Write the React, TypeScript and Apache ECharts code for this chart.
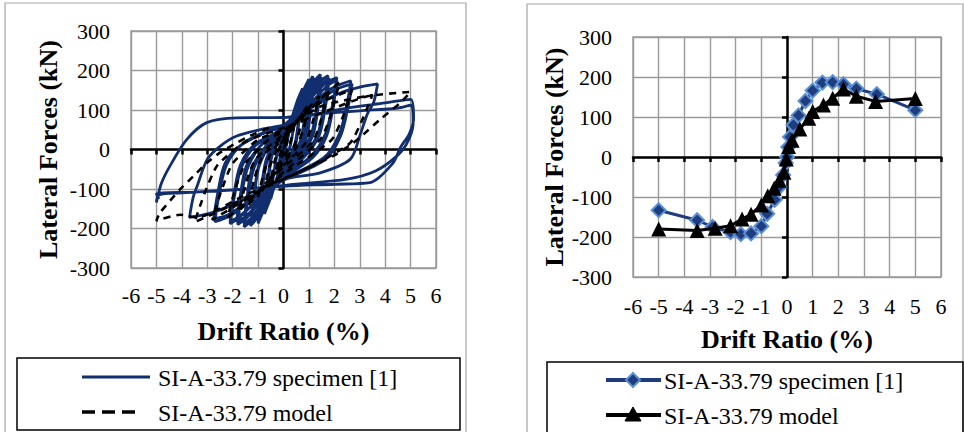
import React, { useEffect, useRef } from "react";
import * as echarts from "echarts";

// ---- data ----
const seriesNames = ["SI-A-33.79 specimen [1]", "SI-A-33.79 model"];
const xAxisTitle = "Drift Ratio (%)";
const yAxisTitle = "Lateral Forces (kN)";
const driftRange = [-6, 6];
const driftStep = 1;
const forceRange = [-300, 300];
const forceStep = 100;

// left chart: hysteresis of the specimen (drift %, force kN), read cycle by cycle
const specimenHysteresis: number[][] = [
  [0, 0], [0.12, 35], [0.25, 62], [0.15, 20], [0.05, -5], [-0.12, -38], [-0.25, -70], [-0.15, -25], [-0.05, 5],
  [0.15, 40], [0.35, 85], [0.5, 115], [0.38, 50], [0.25, 5], [0, -30], [-0.25, -70], [-0.5, -125], [-0.38, -60], [-0.25, -10], [0, 25],
  [0.3, 70], [0.5, 108], [0.37, 45], [0.22, 0], [0, -30], [-0.3, -80], [-0.5, -118], [-0.37, -55], [-0.22, -5], [0, 28],
  [0.3, 70], [0.55, 125], [0.75, 155], [0.62, 90], [0.45, 15], [0.1, -35], [-0.3, -85], [-0.55, -130], [-0.75, -163], [-0.62, -95], [-0.45, -15], [-0.1, 30],
  [0.35, 75], [0.6, 125], [0.75, 148], [0.63, 85], [0.47, 10], [0.1, -38], [-0.35, -90], [-0.75, -155], [-0.63, -90], [-0.47, -12], [-0.1, 28],
  [0.4, 85], [0.75, 145], [1.0, 178], [0.88, 110], [0.68, 25], [0.25, -30], [-0.4, -95], [-0.75, -150], [-1.0, -187], [-0.87, -120], [-0.65, -30], [-0.2, 35],
  [0.45, 85], [0.8, 145], [1.0, 170], [0.9, 105], [0.7, 20], [0.25, -35], [-0.45, -100], [-1.0, -178], [-0.9, -115], [-0.68, -25], [-0.2, 32],
  [0.5, 95], [0.95, 160], [1.15, 186], [1.05, 130], [0.85, 35], [0.4, -25], [-0.45, -100], [-1.0, -170], [-1.3, -193], [-1.17, -130], [-0.95, -40], [-0.3, 35],
  [0.55, 95], [1.0, 160], [1.25, 180], [1.12, 125], [0.9, 30], [0.4, -30], [-0.5, -105], [-1.05, -168], [-1.28, -185], [-1.17, -125], [-0.95, -35], [-0.3, 32],
  [0.6, 100], [1.2, 172], [1.45, 190], [1.35, 130], [1.1, 40], [0.55, -20], [-0.5, -100], [-1.2, -175], [-1.55, -196], [-1.42, -135], [-1.15, -45], [-0.4, 35],
  [0.65, 100], [1.25, 168], [1.5, 182], [1.4, 125], [1.15, 35], [0.55, -25], [-0.55, -105], [-1.25, -172], [-1.55, -188], [-1.45, -128], [-1.2, -40], [-0.4, 30],
  [0.7, 100], [1.4, 170], [1.75, 187], [1.62, 125], [1.35, 40], [0.8, -15], [-0.5, -95], [-1.4, -170], [-1.8, -190], [-1.68, -130], [-1.4, -45], [-0.7, 25], [0, 50],
  [0.75, 100], [1.45, 165], [1.8, 180], [1.68, 120], [1.4, 35], [0.8, -20], [-0.5, -98], [-1.45, -168], [-1.85, -183], [-1.72, -125], [-1.45, -40], [-0.7, 22], [0, 48],
  [0.8, 110], [1.6, 165], [2.1, 182], [1.95, 120], [1.65, 40], [1.1, -15], [0, -70], [-1.0, -125], [-1.7, -170], [-2.1, -188], [-1.95, -125], [-1.65, -45], [-1.1, 10], [0, 55],
  [0.9, 105], [1.7, 160], [2.1, 176], [1.97, 115], [1.7, 35], [1.15, -20], [0, -72], [-1.0, -128], [-1.75, -170], [-2.1, -182], [-1.97, -120], [-1.7, -40], [-1.15, 12], [0, 52],
  [1.0, 110], [1.9, 155], [2.65, 174], [2.5, 115], [2.2, 40], [1.6, -20], [0, -75], [-1.2, -125], [-2.1, -168], [-2.7, -183], [-2.55, -120], [-2.25, -40], [-1.6, 15], [-0.5, 50], [0.3, 65],
  [1.1, 108], [2.0, 150], [2.7, 166], [2.55, 110], [2.25, 35], [1.65, -25], [0, -78], [-1.3, -128], [-2.2, -166], [-2.75, -176], [-2.6, -115], [-2.3, -35], [-1.65, 12], [-0.5, 48], [0.3, 62],
  [1.2, 110], [2.3, 145], [3.0, 158], [3.7, 166], [3.55, 120], [3.3, 90], [3.0, 34], [2.62, -25], [1.44, -59], [0, -76], [-1.5, -125], [-2.8, -160], [-3.7, -172], [-3.55, -120], [-3.4, -93], [-3.0, -25], [-2.5, 8], [-1.84, 34], [-0.8, 52], [0, 62],
  [1.0, 85], [2.5, 105], [4.0, 118], [5.0, 127], [5.12, 80], [4.95, 40], [4.6, 5], [4.3, -35], [3.4, -84], [2.0, -88], [0, -93], [-2.0, -102], [-4.0, -110], [-4.9, -115], [-5.0, -134], [-4.8, -85], [-4.47, -42], [-3.81, 25], [-3.02, 68], [-1.84, 80], [0, 81],
  [1.0, 88], [3.0, 98], [4.5, 105], [5.0, 112], [5.1, 65], [4.85, 15], [4.4, -20], [3.6, -55], [2.5, -75], [0.5, -88], [-1.5, -100], [-3.5, -108], [-5.0, -112], [-4.9, -125],
];

// left chart: hysteresis of the model
const modelHysteresis: number[][] = [
  [0, 0], [0.22, 45], [0.12, 15], [0, -10], [-0.3, -58], [-0.18, -20], [0, 10],
  [0.45, 68], [0.3, 25], [0.1, -10], [-0.2, -40], [-0.5, -78], [-0.35, -30], [-0.15, 5], [0.1, 30],
  [0.8, 96], [0.6, 40], [0.35, 0], [0, -30], [-0.75, -97], [-0.55, -45], [-0.3, -5], [0, 25],
  [1.0, 115], [0.8, 55], [0.5, 5], [0, -35], [-0.5, -70], [-1.0, -120], [-0.78, -60], [-0.5, -10], [0, 30],
  [1.4, 135], [1.15, 70], [0.85, 15], [0, -40], [-0.7, -85], [-1.4, -143], [-1.15, -75], [-0.85, -20], [0, 35],
  [1.78, 148], [1.5, 80], [1.15, 20], [0, -45], [-0.9, -100], [-1.75, -155], [-1.48, -85], [-1.1, -25], [0, 40],
  [1.0, 100], [2.2, 170], [1.9, 95], [1.5, 30], [0.5, -30], [-1.0, -110], [-2.2, -172], [-1.9, -100], [-1.5, -35], [-0.5, 30], [0, 45],
  [1.2, 110], [2.7, 152], [2.35, 85], [1.9, 25], [0.5, -40], [-1.2, -115], [-2.8, -178], [-2.45, -105], [-2.0, -35], [-1.0, 25], [0, 50],
  [1.5, 110], [3.5, 138], [3.1, 75], [2.6, 15], [1.0, -45], [-1.0, -105], [-2.5, -155], [-3.5, -184], [-3.1, -110], [-2.6, -40], [-1.5, 20], [0, 55],
  [2.0, 105], [3.3, 135], [5.0, 146], [4.59, 118], [3.8, 76], [3.14, 38], [2.75, 17], [2.0, -15], [0.5, -60], [-1.5, -115], [-3.4, -172], [-4.07, -165], [-5.0, -180],
  [-4.86, -160], [-4.07, -101], [-3.55, -68], [-3.02, -34], [-2.5, -8], [-1.84, 17], [-1.3, 35], [-0.4, 60],
];

// right chart: envelopes
const specimenEnvelope: number[][] = [
  [-5, -133], [-3.5, -158], [-2.9, -175], [-2.2, -188], [-1.8, -193], [-1.4, -191], [-1.0, -173], [-0.77, -142],
  [-0.48, -107], [-0.3, -75], [-0.15, -45], [-0.05, -15], [0, 0], [0.05, 25], [0.12, 50], [0.25, 80], [0.45, 104],
  [0.72, 140], [1.0, 166], [1.38, 186], [1.78, 187], [2.2, 182], [2.7, 171], [3.5, 157], [5, 117],
];
const modelEnvelope: number[][] = [
  [-5, -180], [-3.5, -184], [-2.8, -178], [-2.2, -172], [-1.75, -155], [-1.4, -143], [-1.0, -120], [-0.75, -97],
  [-0.5, -78], [-0.3, -58], [-0.12, -38], [-0.03, -5], [0.06, 26], [0.2, 42], [0.5, 70], [0.85, 97], [1.0, 114],
  [1.42, 130], [1.78, 147], [2.2, 170], [2.7, 152], [3.45, 139], [5, 146],
];

const FONT = "Liberation Serif";
const NAVY = "#112f6e";
const GRID_COLOR = "#9a9a9a";

function labelAxes(gridIndex: number, xMargin: number, xNameGap: number, yMargin: number, yNameGap: number) {
  const x = {
    type: "value", gridIndex, min: driftRange[0], max: driftRange[1], interval: driftStep, position: "bottom",
    axisLine: { show: false, onZero: false }, axisTick: { show: false },
    axisLabel: { color: "#000", fontFamily: FONT, fontSize: 22, margin: xMargin },
    splitLine: { show: true, lineStyle: { color: GRID_COLOR, width: 1.4 } },
    name: xAxisTitle, nameLocation: "middle", nameGap: xNameGap,
    nameTextStyle: { color: "#000", fontFamily: FONT, fontSize: 26, fontWeight: "bold" },
  };
  const y = {
    type: "value", gridIndex, min: forceRange[0], max: forceRange[1], interval: forceStep, position: "left",
    axisLine: { show: false, onZero: false }, axisTick: { show: false },
    axisLabel: { color: "#000", fontFamily: FONT, fontSize: 22, margin: yMargin },
    splitLine: { show: true, lineStyle: { color: GRID_COLOR, width: 1.4 } },
    name: yAxisTitle, nameLocation: "middle", nameGap: yNameGap,
    nameTextStyle: { color: "#000", fontFamily: FONT, fontSize: 26, fontWeight: "bold" },
  };
  return { x, y };
}
function zeroAxes(gridIndex: number) {
  const x = {
    type: "value", gridIndex, min: driftRange[0], max: driftRange[1], interval: driftStep, position: "bottom",
    axisLine: { show: true, onZero: true, lineStyle: { color: "#000", width: 2.5 } },
    axisTick: { show: true, inside: false, length: 5, lineStyle: { color: "#000", width: 2.5 } },
    axisLabel: { show: false }, splitLine: { show: false },
  };
  const y = {
    type: "value", gridIndex, min: forceRange[0], max: forceRange[1], interval: forceStep, position: "left",
    axisLine: { show: true, onZero: true, lineStyle: { color: "#000", width: 2.5 } },
    axisTick: { show: true, inside: false, length: 5, lineStyle: { color: "#000", width: 2.5 } },
    axisLabel: { show: false }, splitLine: { show: false },
  };
  return { x, y };
}

function legendGraphics() {
  const txt = (x: number, y: number, t: string) => ({
    type: "text", x, y,
    style: { text: t, fill: "#000", fontFamily: FONT, fontSize: 24, fontWeight: "normal", verticalAlign: "middle", align: "left" },
  });
  const line = (x1: number, y1: number, x2: number, y2: number, stroke: string, w: number, dash?: number[]) => ({
    type: "line", shape: { x1, y1, x2, y2 }, style: { stroke, lineWidth: w, lineDash: dash },
  });
  return [
    { type: "rect", shape: { x: 5, y: 3, width: 461, height: 440 }, style: { fill: "none", stroke: "#a6a6a6", lineWidth: 1.2 }, z: -10 },
    { type: "rect", shape: { x: 527, y: 4, width: 436, height: 440 }, style: { fill: "none", stroke: "#a6a6a6", lineWidth: 1.2 }, z: -10 },
    // left legend
    { type: "rect", shape: { x: 17, y: 358, width: 443, height: 72 }, style: { fill: "none", stroke: "#000", lineWidth: 1.5 } },
    line(82, 377, 150, 377, NAVY, 3),
    txt(158, 378, seriesNames[0]),
    line(82, 412, 137, 412, "#000", 3.5, [13, 7]),
    txt(158, 413, seriesNames[1]),
    // right legend
    { type: "rect", shape: { x: 547, y: 362, width: 416, height: 80 }, style: { fill: "none", stroke: "#000", lineWidth: 1.5 } },
    line(606, 380, 661, 380, "#1f3c7c", 4),
    { type: "polygon", shape: { points: [[633, 373], [640, 380], [633, 387], [626, 380]] }, style: { fill: "#1f3c7c", stroke: "#5b8fd4", lineWidth: 2 } },
    txt(664, 381, seriesNames[0]),
    line(606, 415, 661, 415, "#000", 4),
    { type: "polygon", shape: { points: [[633, 407], [641, 421], [625, 421]] }, style: { fill: "#000", stroke: "#000", lineWidth: 1 } },
    txt(664, 416, seriesNames[1]),
  ];
}

export default function App() {
  const ref = useRef<HTMLDivElement>(null);
  useEffect(() => {
    if (!ref.current) return;
    const chart = echarts.init(ref.current, null, { renderer: "svg" });
    const l0 = labelAxes(0, 16, 50, 21, 70);
    const z0 = zeroAxes(0);
    const l1 = labelAxes(1, 18, 49, 21, 65);
    const z1 = zeroAxes(1);
    chart.setOption({
      animation: false,
      backgroundColor: "#fff",
      textStyle: { fontFamily: FONT },
      grid: [
        { left: 131, top: 31, width: 305, height: 237, show: true, borderColor: GRID_COLOR, borderWidth: 1.4, backgroundColor: "transparent", outerBoundsMode: "none", containLabel: false },
        { left: 633, top: 37, width: 308, height: 240, show: true, borderColor: GRID_COLOR, borderWidth: 1.4, backgroundColor: "transparent", outerBoundsMode: "none", containLabel: false },
      ],
      xAxis: [l0.x, z0.x, l1.x, z1.x],
      yAxis: [l0.y, z0.y, l1.y, z1.y],
      series: [
        {
          name: seriesNames[0], type: "line", xAxisIndex: 0, yAxisIndex: 0, data: specimenHysteresis,
          showSymbol: false, symbol: "none", smooth: 0.3, lineStyle: { color: NAVY, width: 2.8 }, z: 3,
        },
        {
          name: seriesNames[1], type: "line", xAxisIndex: 0, yAxisIndex: 0, data: modelHysteresis,
          showSymbol: false, symbol: "none", smooth: 0.2, lineStyle: { color: "#000", width: 2.6, type: [7, 6] }, z: 4,
        },
        {
          name: seriesNames[0], type: "line", xAxisIndex: 2, yAxisIndex: 2, data: specimenEnvelope,
          symbol: "diamond", symbolSize: 14, lineStyle: { color: "#1f3c7c", width: 3 },
          itemStyle: { color: "#1f3c7c", borderColor: "#5b8fd4", borderWidth: 2 }, z: 3,
        },
        {
          name: seriesNames[1], type: "line", xAxisIndex: 2, yAxisIndex: 2, data: modelEnvelope,
          symbol: "triangle", symbolSize: 15, lineStyle: { color: "#000", width: 3 },
          itemStyle: { color: "#000" }, z: 4,
        },
      ],
      graphic: legendGraphics(),
    });
    return () => chart.dispose();
  }, []);
  return <div ref={ref} style={{ position: "absolute", left: 0, top: 0, width: 964, height: 432 }} />;
}
